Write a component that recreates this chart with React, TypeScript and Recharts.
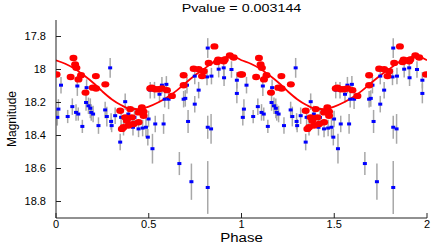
import React from 'react';
import { ComposedChart, Scatter, Line, XAxis, YAxis, ErrorBar } from 'recharts';

// One cycle of folded phase data (shown twice: phase and phase + 1)
const bluePhase = [
  0.007, 0.013, 0.027, 0.063, 0.088, 0.108, 0.115, 0.12, 0.142, 0.162,
  0.165, 0.175, 0.185, 0.19, 0.2, 0.229, 0.265, 0.274, 0.292, 0.297,
  0.3, 0.319, 0.346, 0.351, 0.364, 0.373, 0.39, 0.415, 0.423, 0.445,
  0.467, 0.485, 0.495, 0.499, 0.508, 0.52, 0.531, 0.535, 0.558, 0.571,
  0.58, 0.586, 0.595, 0.607, 0.665, 0.688, 0.697, 0.706, 0.712, 0.73,
  0.748, 0.748, 0.769, 0.814, 0.818, 0.818, 0.818, 0.836, 0.838, 0.877,
  0.904, 0.906, 0.946, 0.975, 0.975,
];
const blueMag = [
  18.29, 18.24, 18.095, 18.285, 18.225, 18.26, 18.1, 18.27, 18.345, 18.2,
  18.11, 18.22, 18.235, 18.26, 18.27, 18.34, 18.245, 18.285, 17.99, 18.315,
  18.34, 18.28, 18.44, 18.29, 18.35, 18.195, 18.27, 18.35, 18.29, 18.36,
  18.355, 18.35, 18.41, 18.3, 18.125, 18.48, 18.125, 18.33, 18.15, 18.095,
  18.33, 18.18, 18.09, 18.18, 18.57, 18.18, 18.175, 18.095, 18.315, 18.68,
  18.04, 18.21, 18.125, 18.045, 17.87, 18.35, 18.715, 18.36, 18.04, 17.998,
  17.99, 18.05, 18.0, 18.065, 18.145,
];
const blueErr = [
  0.05, 0.06, 0.05, 0.04, 0.05, 0.05, 0.06, 0.04, 0.04, 0.05,
  0.05, 0.05, 0.06, 0.05, 0.05, 0.05, 0.05, 0.06, 0.06, 0.05,
  0.04, 0.05, 0.05, 0.05, 0.05, 0.05, 0.05, 0.05, 0.06, 0.05,
  0.05, 0.06, 0.05, 0.05, 0.05, 0.09, 0.05, 0.05, 0.05, 0.05,
  0.06, 0.05, 0.05, 0.06, 0.07, 0.05, 0.05, 0.05, 0.07, 0.11,
  0.05, 0.05, 0.05, 0.05, 0.06, 0.07, 0.16, 0.09, 0.05, 0.05,
  0.05, 0.05, 0.05, 0.05, 0.06,
];

const redPhase = [
  0.003, 0.079, 0.094, 0.103, 0.11, 0.121, 0.135, 0.159, 0.198, 0.216,
  0.215, 0.266, 0.346, 0.355, 0.364, 0.373, 0.382, 0.391, 0.4, 0.409,
  0.418, 0.445, 0.445, 0.463, 0.472, 0.472, 0.508, 0.517, 0.535, 0.553,
  0.571, 0.598, 0.625, 0.688, 0.688, 0.742, 0.769, 0.787, 0.796, 0.823,
  0.854, 0.868, 0.874, 0.904, 0.91, 0.937, 0.958, 0.995,
];
const redMag = [
  18.03, 18.045, 17.93, 17.97, 17.99, 18.06, 18.035, 18.14, 18.11, 18.115,
  18.04, 18.09, 18.25, 18.36, 18.35, 18.29, 18.31, 18.34, 18.24, 18.29,
  18.33, 18.26, 18.32, 18.23, 18.28, 18.255, 18.115, 18.11, 18.12, 18.12,
  18.115, 18.125, 18.16, 18.035, 18.095, 17.995, 17.998, 18.04, 18.01, 17.96,
  17.86, 17.955, 17.94, 17.95, 17.94, 17.915, 17.927, 18.03,
];

const curvePhase = [
  0, 0.05, 0.1, 0.15, 0.2, 0.25, 0.3, 0.35, 0.4, 0.45,
  0.5, 0.55, 0.6, 0.65, 0.7, 0.75, 0.8, 0.85, 0.9, 0.95,
];
const curveMag = [
  17.944, 17.965, 17.995, 18.035, 18.08, 18.133, 18.18, 18.215, 18.238, 18.24,
  18.225, 18.2, 18.168, 18.128, 18.08, 18.035, 17.995, 17.955, 17.928, 17.92,
];

const cycles = [0, 1];
const xTicks = [0, 0.5, 1, 1.5, 2];
const yTicks = [17.8, 18, 18.2, 18.4, 18.6, 18.8];

const blueData = cycles.flatMap((c) =>
  bluePhase.map((p, i) => ({ x: p + c, y: blueMag[i], err: blueErr[i] }))
);
const redData = cycles.flatMap((c) => redPhase.map((p, i) => ({ x: p + c, y: redMag[i] })));
const curveData = [
  ...cycles.flatMap((c) => curvePhase.map((p, i) => ({ x: p + c, y: curveMag[i] }))),
  { x: 2, y: curveMag[0] },
];

const BlueDot = (props: any) => (
  <rect x={props.cx - 2} y={props.cy - 1.5} width={4} height={3} fill="#0000ff" />
);
const RedDot = (props: any) => (
  <ellipse cx={props.cx} cy={props.cy} rx={4} ry={3.2} fill="#ff0000" />
);

const font = '"Liberation Sans", Arial, Helvetica, sans-serif';
const xTickStyle = { fill: '#000', fontSize: 11, fontFamily: font };
const yTickStyle = { fill: '#000', fontSize: 11, fontFamily: font };
const axisStroke = { stroke: '#222' };

export default function App() {
  return (
    <div style={{ position: 'absolute', left: 0, top: 0, width: 436, height: 245, background: '#fff' }}>
      <ComposedChart width={436} height={245} margin={{ top: 20, right: 9, bottom: 0, left: 0 }}>
        <XAxis
          xAxisId={0}
          type="number"
          dataKey="x"
          domain={[0, 2]}
          ticks={xTicks}
          interval={0}
          allowDataOverflow
          height={27}
          tickSize={-5}
          tickMargin={7}
          axisLine={axisStroke}
          tickLine={axisStroke}
          tick={xTickStyle}
        />
        <XAxis
          xAxisId="top"
          orientation="top"
          type="number"
          domain={[0, 2]}
          ticks={xTicks}
          interval={0}
          allowDataOverflow
          height={0}
          tickSize={-5}
          axisLine={axisStroke}
          tickLine={axisStroke}
          tick={false}
        />
        <YAxis
          yAxisId={0}
          type="number"
          dataKey="y"
          domain={[17.7, 18.9]}
          reversed
          ticks={yTicks}
          interval={0}
          allowDataOverflow
          width={56}
          tickSize={-5}
          tickMargin={15}
          axisLine={axisStroke}
          tickLine={axisStroke}
          tick={yTickStyle}
        />
        <YAxis
          yAxisId="right"
          orientation="right"
          type="number"
          domain={[17.7, 18.9]}
          reversed
          ticks={yTicks}
          interval={0}
          allowDataOverflow
          width={0}
          tickSize={-5}
          axisLine={axisStroke}
          tickLine={axisStroke}
          tick={false}
        />
        <Scatter data={blueData} dataKey="y" shape={BlueDot} isAnimationActive={false}>
          <ErrorBar dataKey="err" direction="y" width={0} stroke="#a8a8a8" strokeWidth={1.5} isAnimationActive={false} />
        </Scatter>
        <Line
          data={curveData}
          dataKey="y"
          type="monotone"
          stroke="#ff0000"
          strokeWidth={1.8}
          dot={false}
          activeDot={false}
          isAnimationActive={false}
        />
        <Scatter data={redData} dataKey="y" shape={RedDot} isAnimationActive={false} />
      </ComposedChart>
      <div
        style={{
          position: 'absolute', left: 56, width: 371, top: 1, textAlign: 'center',
          fontFamily: font, fontSize: 11, lineHeight: '14px', color: '#000',
          transform: 'scaleX(1.3)', transformOrigin: '185.5px 0',
        }}
      >
        Pvalue = 0.003144
      </div>
      <div
        style={{
          position: 'absolute', left: 56, width: 371, top: 233, textAlign: 'center',
          fontFamily: font, fontSize: 12, lineHeight: '10px', color: '#000',
          transform: 'scaleX(1.25)', transformOrigin: '185.5px 0',
        }}
      >
        Phase
      </div>
      <div
        style={{
          position: 'absolute', left: 12, top: 119, width: 0, height: 0,
        }}
      >
        <div
          style={{
            position: 'absolute', left: -40, top: -7, width: 80, textAlign: 'center',
            fontFamily: font, fontSize: 12, lineHeight: '14px', color: '#000',
            transform: 'rotate(-90deg)', transformOrigin: '40px 7px',
          }}
        >
          Magnitude
        </div>
      </div>
    </div>
  );
}
